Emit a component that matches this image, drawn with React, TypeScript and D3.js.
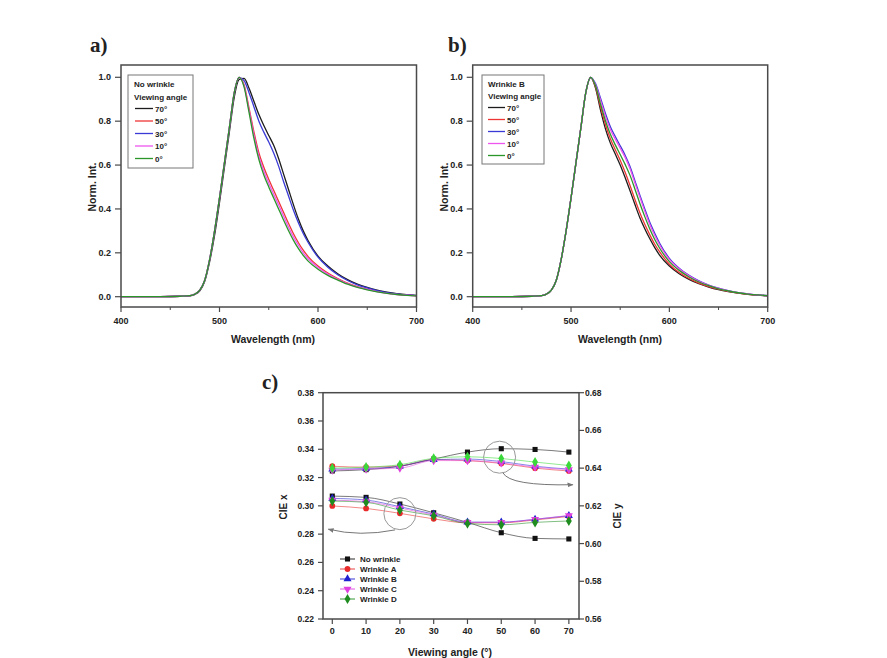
import React from "react";
import * as d3 from "d3";

// ---------- Spectra data (normalized intensity vs wavelength) ----------
const WL = [400, 420, 440, 460, 470, 475, 480, 485, 490, 495, 500, 505, 510, 515, 520, 525, 530, 535, 540, 545, 550, 555, 560, 565, 570, 575, 580, 585, 590, 600, 610, 620, 630, 640, 650, 660, 670, 680, 690, 700];

const ANGLE_LABELS = ["70°", "50°", "30°", "10°", "0°"];
const SPEC_COLORS = ["#1c1c1c", "#ee3535", "#3a3ad6", "#ee55ee", "#2a962a"];

// No wrinkle
const NW_70 = [0, 0, 0, 0.002, 0.004, 0.01, 0.027, 0.07, 0.16, 0.28, 0.43, 0.59, 0.75, 0.91, 0.99, 0.995, 0.95, 0.89, 0.83, 0.78, 0.735, 0.69, 0.63, 0.56, 0.49, 0.42, 0.355, 0.3, 0.255, 0.185, 0.14, 0.105, 0.078, 0.057, 0.042, 0.03, 0.021, 0.014, 0.009, 0.006];
const NW_50 = [0, 0, 0, 0.002, 0.005, 0.012, 0.03, 0.075, 0.17, 0.3, 0.45, 0.61, 0.77, 0.93, 1.0, 0.965, 0.86, 0.75, 0.655, 0.59, 0.535, 0.485, 0.435, 0.385, 0.335, 0.288, 0.247, 0.212, 0.183, 0.14, 0.108, 0.083, 0.062, 0.046, 0.034, 0.024, 0.016, 0.011, 0.007, 0.004];
const NW_30 = [0, 0, 0, 0.002, 0.005, 0.012, 0.03, 0.075, 0.17, 0.3, 0.45, 0.61, 0.77, 0.93, 1.0, 0.985, 0.93, 0.865, 0.8, 0.75, 0.705, 0.655, 0.595, 0.525, 0.46, 0.395, 0.338, 0.288, 0.247, 0.18, 0.134, 0.1, 0.074, 0.054, 0.04, 0.028, 0.019, 0.013, 0.008, 0.005];
const NW_10 = [0, 0, 0, 0.002, 0.005, 0.012, 0.03, 0.075, 0.17, 0.3, 0.45, 0.61, 0.77, 0.93, 1.0, 0.96, 0.85, 0.735, 0.64, 0.572, 0.517, 0.467, 0.418, 0.368, 0.318, 0.273, 0.235, 0.2, 0.173, 0.133, 0.103, 0.079, 0.06, 0.044, 0.033, 0.023, 0.015, 0.01, 0.007, 0.004];
const NW_0 = [0, 0, 0, 0.002, 0.005, 0.012, 0.03, 0.075, 0.17, 0.3, 0.45, 0.61, 0.77, 0.93, 1.0, 0.955, 0.84, 0.72, 0.625, 0.555, 0.5, 0.45, 0.4, 0.35, 0.302, 0.258, 0.22, 0.188, 0.162, 0.125, 0.097, 0.076, 0.057, 0.042, 0.031, 0.022, 0.015, 0.01, 0.006, 0.004];

// Wrinkle B
const WB_70 = [0, 0, 0, 0.002, 0.005, 0.012, 0.03, 0.075, 0.17, 0.3, 0.45, 0.61, 0.77, 0.93, 1.0, 0.95, 0.85, 0.765, 0.7, 0.65, 0.6, 0.543, 0.483, 0.42, 0.36, 0.31, 0.265, 0.225, 0.19, 0.14, 0.105, 0.079, 0.059, 0.044, 0.032, 0.023, 0.016, 0.011, 0.007, 0.004];
const WB_50 = [0, 0, 0, 0.002, 0.005, 0.012, 0.03, 0.075, 0.17, 0.3, 0.45, 0.61, 0.77, 0.93, 1.0, 0.955, 0.865, 0.785, 0.72, 0.67, 0.622, 0.567, 0.507, 0.443, 0.383, 0.33, 0.283, 0.24, 0.205, 0.148, 0.11, 0.083, 0.062, 0.046, 0.034, 0.024, 0.016, 0.011, 0.007, 0.004];
const WB_30 = [0, 0, 0, 0.002, 0.005, 0.012, 0.03, 0.075, 0.17, 0.3, 0.45, 0.61, 0.77, 0.93, 1.0, 0.97, 0.905, 0.835, 0.775, 0.73, 0.688, 0.645, 0.593, 0.528, 0.463, 0.4, 0.34, 0.29, 0.245, 0.175, 0.13, 0.097, 0.072, 0.053, 0.039, 0.028, 0.019, 0.013, 0.008, 0.005];
const WB_10 = [0, 0, 0, 0.002, 0.005, 0.012, 0.03, 0.075, 0.17, 0.3, 0.45, 0.61, 0.77, 0.93, 1.0, 0.965, 0.895, 0.822, 0.762, 0.718, 0.677, 0.635, 0.583, 0.518, 0.453, 0.39, 0.33, 0.28, 0.237, 0.17, 0.127, 0.095, 0.07, 0.052, 0.038, 0.027, 0.019, 0.013, 0.008, 0.005];
const WB_0 = [0, 0, 0, 0.002, 0.005, 0.012, 0.03, 0.075, 0.17, 0.3, 0.45, 0.61, 0.77, 0.93, 1.0, 0.96, 0.878, 0.802, 0.74, 0.692, 0.648, 0.603, 0.553, 0.49, 0.425, 0.365, 0.31, 0.262, 0.222, 0.16, 0.12, 0.09, 0.067, 0.05, 0.036, 0.026, 0.018, 0.012, 0.008, 0.005];

const SPEC_X_TICKS = [400, 500, 600, 700];
const SPEC_X_MINOR = [450, 550, 650];
const SPEC_Y_TICKS = [0, 0.2, 0.4, 0.6, 0.8, 1.0];

// ---------- CIE data ----------
const ANGLES = [0, 10, 20, 30, 40, 50, 60, 70];
const CIE_NAMES = ["No wrinkle", "Wrinkle A", "Wrinkle B", "Wrinkle C", "Wrinkle D"];
const CIE_X_COLORS = ["#111111", "#e82a2a", "#2020d0", "#e040e0", "#1e8c1e"];
const CIE_Y_COLORS = ["#111111", "#e82a2a", "#2a2ad8", "#e040e0", "#3ad83a"];
const CIE_SYMBOLS = [d3.symbolSquare, d3.symbolCircle, d3.symbolTriangle, d3.symbolTriangle, d3.symbolDiamond];

const CIEX_NW = [0.3069, 0.306, 0.3013, 0.2951, 0.2883, 0.281, 0.277, 0.2766];
const CIEX_A = [0.2999, 0.2982, 0.2947, 0.2908, 0.288, 0.288, 0.29, 0.2925];
const CIEX_B = [0.3053, 0.3041, 0.2994, 0.2942, 0.2885, 0.2885, 0.2905, 0.293];
const CIEX_C = [0.304, 0.303, 0.2985, 0.2935, 0.2883, 0.2883, 0.2905, 0.2932];
const CIEX_D = [0.3034, 0.3025, 0.297, 0.293, 0.2875, 0.2866, 0.2883, 0.2893];

const CIEY_NW = [0.6385, 0.6392, 0.641, 0.6448, 0.6485, 0.6503, 0.6499, 0.6485];
const CIEY_A = [0.641, 0.6405, 0.6412, 0.6445, 0.644, 0.6425, 0.64, 0.6385];
const CIEY_B = [0.6395, 0.6398, 0.641, 0.6445, 0.6448, 0.6435, 0.641, 0.6395];
const CIEY_C = [0.639, 0.6395, 0.64, 0.644, 0.644, 0.6428, 0.6405, 0.6392];
const CIEY_D = [0.64, 0.6405, 0.6418, 0.6452, 0.646, 0.6451, 0.6432, 0.6414];

const CIE_LEFT_TICKS = [0.22, 0.24, 0.26, 0.28, 0.3, 0.32, 0.34, 0.36, 0.38];
const CIE_RIGHT_TICKS = [0.56, 0.58, 0.6, 0.62, 0.64, 0.66, 0.68];

const FONT = "'Liberation Sans', Arial, sans-serif";
const AXIS = "#4a4a4a";
const TEXT = "#222";

type Leg = { x: number; y: number; w: number; h: number; rows: number[]; l0: number; l1: number; tx: number };

function Spectrum(props: {
  left: number; right: number; panel: string; panelX: number; xTitleX: number; yTitleX: number;
  legendName: string; leg: Leg; data: number[][];
}) {
  const { left, right, panel, panelX, xTitleX, yTitleX, legendName, leg, data } = props;
  const TOP = 65, BOT = 307;
  const x = d3.scaleLinear().domain([400, 700]).range([left, right]);
  const y = d3.scaleLinear().domain([0, 1]).range([296.7, 77.3]);
  const line = d3.line<number>().x((_, i) => x(WL[i])).y((d) => y(d)).curve(d3.curveMonotoneX);
  return (
    <g fontFamily={FONT} fill={TEXT}>
      <text x={panelX} y={52} fontFamily="'Liberation Serif', 'Times New Roman', serif" fontWeight="bold" fontSize={21}>{panel}</text>
      {data.map((arr, i) => (
        <path key={i} d={line(arr) || ""} fill="none" stroke={SPEC_COLORS[i]} strokeWidth={1.3} />
      ))}
      <rect x={left} y={TOP} width={right - left} height={BOT - TOP} fill="none" stroke={AXIS} strokeWidth={1.5} />
      {SPEC_X_TICKS.map((t) => (
        <g key={t}>
          <line x1={x(t)} x2={x(t)} y1={BOT} y2={BOT + 5} stroke={AXIS} strokeWidth={1.2} />
          <text x={x(t)} y={324} textAnchor="middle" fontSize={9} fontWeight="bold">{t}</text>
        </g>
      ))}
      {SPEC_X_MINOR.map((t) => (
        <line key={t} x1={x(t)} x2={x(t)} y1={BOT} y2={BOT + 3} stroke={AXIS} strokeWidth={1} />
      ))}
      {SPEC_Y_TICKS.map((t) => (
        <g key={t}>
          <line x1={left - 6} x2={left} y1={y(t)} y2={y(t)} stroke={AXIS} strokeWidth={1.2} />
          <text x={left - 10} y={y(t) + 3} textAnchor="end" fontSize={9} fontWeight="bold">{t.toFixed(1)}</text>
        </g>
      ))}
      <text x={xTitleX} y={343} textAnchor="middle" fontSize={10.5} fontWeight="bold">Wavelength (nm)</text>
      <text transform={`translate(${yTitleX},187) rotate(-90)`} textAnchor="middle" fontSize={10.5} fontWeight="bold">Norm. Int.</text>
      <rect x={leg.x} y={leg.y} width={leg.w} height={leg.h} fill="white" stroke="#777" strokeWidth={1} />
      <text x={leg.x + 6} y={leg.rows[0] + 3} fontSize={8} fontWeight="bold">{legendName}</text>
      <text x={leg.x + 6} y={leg.rows[1] + 3} fontSize={8} fontWeight="bold">Viewing angle</text>
      {ANGLE_LABELS.map((lab, i) => (
        <g key={lab}>
          <line x1={leg.l0} x2={leg.l1} y1={leg.rows[i + 2]} y2={leg.rows[i + 2]} stroke={SPEC_COLORS[i]} strokeWidth={1.3} />
          <text x={leg.tx} y={leg.rows[i + 2] + 3} fontSize={8} fontWeight="bold">{lab}</text>
        </g>
      ))}
    </g>
  );
}

function CIEPanel() {
  const L = 323, R = 579, T = 392.7, B = 619;
  const x = d3.scaleLinear().domain([-2.75, 73]).range([L, R]);
  const yL = d3.scaleLinear().domain([0.22, 0.38]).range([B, T]);
  const yR = d3.scaleLinear().domain([0.56, 0.68]).range([B, T]);
  const xs = [CIEX_NW, CIEX_A, CIEX_B, CIEX_C, CIEX_D];
  const ys = [CIEY_NW, CIEY_A, CIEY_B, CIEY_C, CIEY_D];
  const sym = (i: number, size: number) => d3.symbol().type(CIE_SYMBOLS[i]).size(size)() || "";
  const lineL = d3.line<number>().x((_, i) => x(ANGLES[i])).y((d) => yL(d)).curve(d3.curveMonotoneX);
  const lineR = d3.line<number>().x((_, i) => x(ANGLES[i])).y((d) => yR(d)).curve(d3.curveMonotoneX);
  const sizes = [26, 26, 28, 28, 30];
  const rot = (i: number) => (i === 3 ? " rotate(180)" : "");

  // annotation anchors (data coords)
  const c1 = { a: 20, v: 0.2945 };
  const c2 = { a: 49.5, v: 0.6458 };
  const ar1 = { s: [18.6, 0.283], c: [8.2, 0.278], e: [-1.2, 0.2835] };
  const ar2 = { s: [50.5, 0.6375], c: [52.5, 0.6305], e: [71.2, 0.6312] };

  const legRows = [559, 569, 579, 589, 599];

  return (
    <g fontFamily={FONT} fill={TEXT}>
      <defs>
        <marker id="ah" viewBox="0 0 10 10" refX="9" refY="5" markerWidth="6" markerHeight="6" orient="auto">
          <path d="M0,1 L10,5 L0,9 z" fill="#777" />
        </marker>
      </defs>
      <text x={262} y={389} fontFamily="'Liberation Serif', 'Times New Roman', serif" fontWeight="bold" fontSize={21}>c)</text>

      {xs.map((arr, i) => (
        <path key={"lx" + i} d={lineL(arr) || ""} fill="none" stroke={CIE_X_COLORS[i]} strokeWidth={0.8} opacity={0.7} />
      ))}
      {ys.map((arr, i) => (
        <path key={"ly" + i} d={lineR(arr) || ""} fill="none" stroke={CIE_Y_COLORS[i]} strokeWidth={0.8} opacity={0.7} />
      ))}
      {xs.map((arr, i) => (
        <g key={"px" + i}>
          {arr.map((v, j) => (
            <path key={j} d={sym(i, sizes[i])} transform={`translate(${x(ANGLES[j])},${yL(v)})${rot(i)}`} fill={CIE_X_COLORS[i]} />
          ))}
        </g>
      ))}
      {ys.map((arr, i) => (
        <g key={"py" + i}>
          {arr.map((v, j) => (
            <path key={j} d={sym(i, sizes[i])} transform={`translate(${x(ANGLES[j])},${yR(v)})${rot(i)}`} fill={CIE_Y_COLORS[i]} />
          ))}
        </g>
      ))}

      <circle cx={x(c1.a)} cy={yL(c1.v)} r={16} fill="none" stroke="#999" strokeWidth={1} />
      <circle cx={x(c2.a)} cy={yR(c2.v)} r={16} fill="none" stroke="#999" strokeWidth={1} />
      <path d={`M${x(ar1.s[0])},${yL(ar1.s[1])} Q${x(ar1.c[0])},${yL(ar1.c[1])} ${x(ar1.e[0])},${yL(ar1.e[1])}`} fill="none" stroke="#777" strokeWidth={1} markerEnd="url(#ah)" />
      <path d={`M${x(ar2.s[0])},${yR(ar2.s[1])} Q${x(ar2.c[0])},${yR(ar2.c[1])} ${x(ar2.e[0])},${yR(ar2.e[1])}`} fill="none" stroke="#777" strokeWidth={1} markerEnd="url(#ah)" />

      <rect x={L} y={T} width={R - L} height={B - T} fill="none" stroke={AXIS} strokeWidth={1.5} />
      {CIE_LEFT_TICKS.map((t) => (
        <g key={t}>
          <line x1={L - 5} x2={L} y1={yL(t)} y2={yL(t)} stroke={AXIS} strokeWidth={1.2} />
          <text x={L - 9} y={yL(t) + 3} textAnchor="end" fontSize={8.5} fontWeight="bold">{t.toFixed(2)}</text>
        </g>
      ))}
      {CIE_RIGHT_TICKS.map((t) => (
        <g key={t}>
          <line x1={R} x2={R + 5} y1={yR(t)} y2={yR(t)} stroke={AXIS} strokeWidth={1.2} />
          <text x={R + 6} y={yR(t) + 3} textAnchor="start" fontSize={8.5} fontWeight="bold">{t.toFixed(2)}</text>
        </g>
      ))}
      {ANGLES.map((t) => (
        <g key={t}>
          <line x1={x(t)} x2={x(t)} y1={B} y2={B + 5} stroke={AXIS} strokeWidth={1.2} />
          <text x={x(t)} y={634} textAnchor="middle" fontSize={9} fontWeight="bold">{t}</text>
        </g>
      ))}
      <text x={450} y={656} textAnchor="middle" fontSize={10.5} fontWeight="bold">Viewing angle (°)</text>
      <text transform={`translate(287,507) rotate(-90)`} textAnchor="middle" fontSize={10} fontWeight="bold">CIE x</text>
      <text transform={`translate(621,516) rotate(-90)`} textAnchor="middle" fontSize={10} fontWeight="bold">CIE y</text>

      {CIE_NAMES.map((n, i) => (
        <g key={n}>
          <line x1={340} x2={355} y1={legRows[i]} y2={legRows[i]} stroke={CIE_X_COLORS[i]} strokeWidth={0.9} />
          <path d={sym(i, sizes[i])} transform={`translate(347.5,${legRows[i]})${rot(i)}`} fill={CIE_X_COLORS[i]} />
          <text x={360} y={legRows[i] + 3} fontSize={8} fontWeight="bold">{n}</text>
        </g>
      ))}
    </g>
  );
}

export default function App() {
  return (
    <svg width={887} height={658} style={{ position: "absolute", left: 0, top: 0, background: "white" }}>
      <rect width={887} height={658} fill="white" />
      <Spectrum
        left={121} right={416.5} panel="a)" panelX={90} xTitleX={273} yTitleX={96}
        legendName="No wrinkle"
        leg={{ x: 128, y: 75, w: 65, h: 93, rows: [84, 96.5, 108.5, 121, 133.5, 146, 158.5], l0: 135, l1: 153, tx: 155 }}
        data={[NW_70, NW_50, NW_30, NW_10, NW_0]}
      />
      <Spectrum
        left={472.7} right={767.7} panel="b)" panelX={448} xTitleX={620} yTitleX={448}
        legendName="Wrinkle B"
        leg={{ x: 482, y: 75, w: 62, h: 89, rows: [84, 96, 107.5, 119.5, 131.5, 143.5, 155.5], l0: 488, l1: 505, tx: 507 }}
        data={[WB_70, WB_50, WB_30, WB_10, WB_0]}
      />
      <CIEPanel />
    </svg>
  );
}
